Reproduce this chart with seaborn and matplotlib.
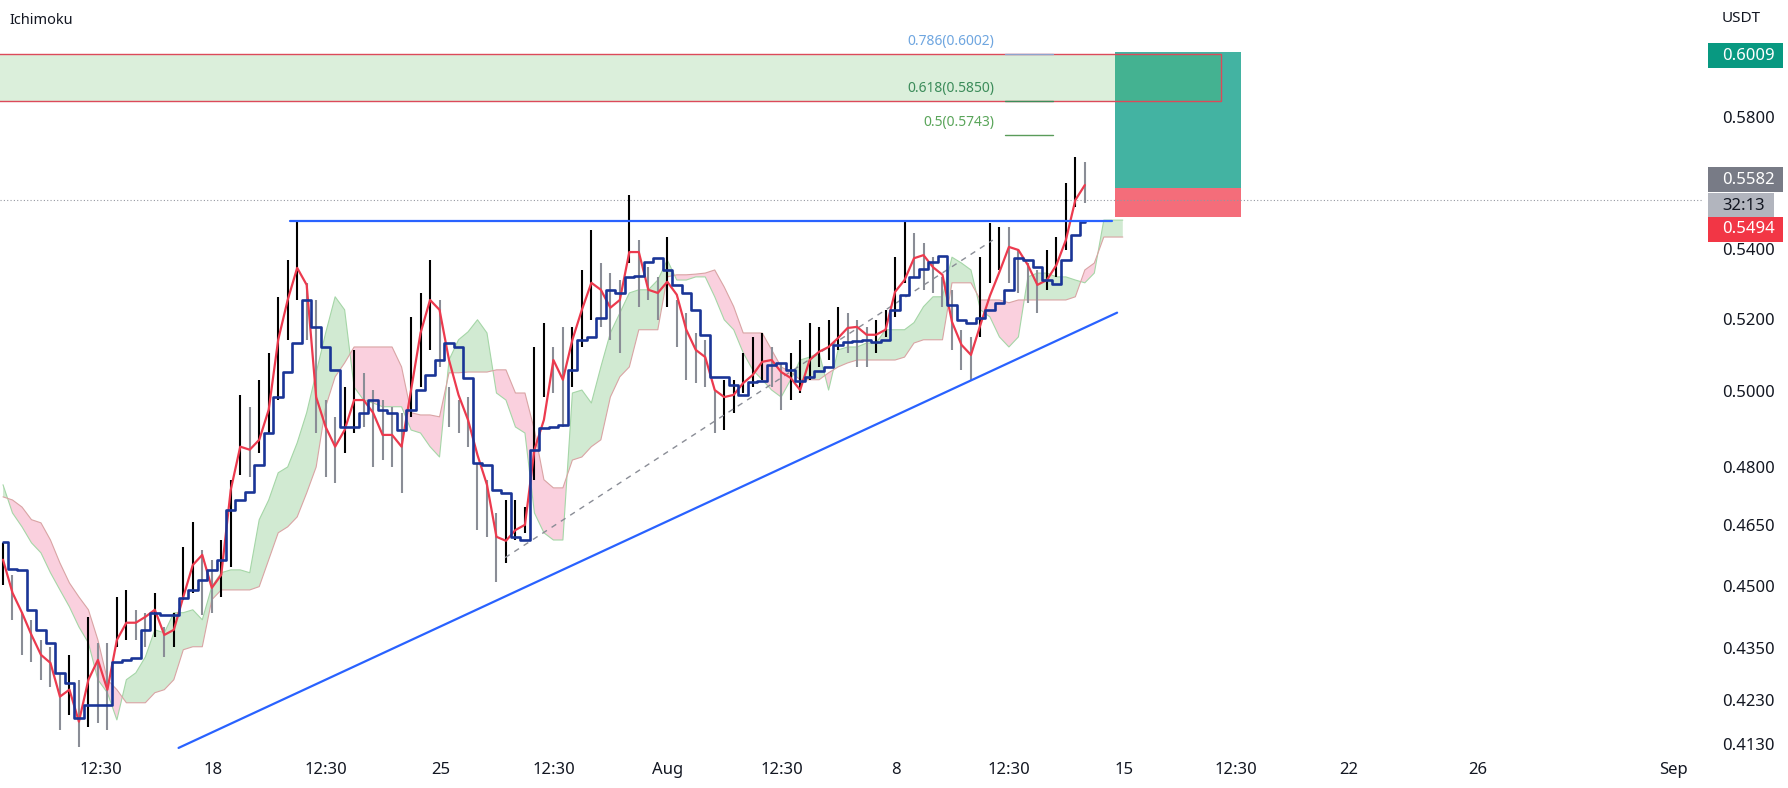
import numpy as np
import pandas as pd
import matplotlib
matplotlib.use("Agg")
import matplotlib.pyplot as plt
from matplotlib.patches import Rectangle
from matplotlib.transforms import IdentityTransform
import seaborn as sns

# ---------------- data ----------------
bar_high = [
    0.4606, 0.4527, 0.4437, 0.4418, 0.4370, 0.4354, 0.4293, 0.4335, 0.4277, 0.4425,
    0.4363, 0.4363, 0.4473, 0.4490, 0.4442, 0.4435, 0.4483, 0.4401, 0.4435, 0.4596,
    0.4659, 0.4588, 0.4564, 0.4613, 0.4766, 0.4990, 0.4958, 0.5031, 0.5105, 0.5262,
    0.5368, 0.5482, 0.5302, 0.5253, 0.4976, 0.4931, 0.5011, 0.5113, 0.5050, 0.5003,
    0.4976, 0.4958, 0.4942, 0.5205, 0.5273, 0.5368, 0.5253, 0.5011, 0.4976, 0.4984,
    0.4809, 0.4766, 0.4681, 0.4714, 0.4714, 0.4696, 0.5121, 0.5189, 0.5121, 0.5177,
    0.5177, 0.5339, 0.5456, 0.5359, 0.5330, 0.5310, 0.5560, 0.5426, 0.5347, 0.5319,
    0.5435, 0.5253, 0.5216, 0.5160, 0.5141, 0.5003, 0.5031, 0.5031, 0.5105, 0.5149,
    0.5160, 0.5121, 0.5077, 0.5105, 0.5141, 0.5189, 0.5177, 0.5197, 0.5234, 0.5216,
    0.5197, 0.5177, 0.5197, 0.5225, 0.5376, 0.5485, 0.5447, 0.5417, 0.5376, 0.5319,
    0.5282, 0.5169, 0.5149, 0.5376, 0.5476, 0.5465, 0.5465, 0.5397, 0.5359, 0.5339,
    0.5397, 0.5435, 0.5596, 0.5676, 0.5660,
]
bar_low = [
    0.4503, 0.4418, 0.4335, 0.4318, 0.4277, 0.4261, 0.4163, 0.4197, 0.4124, 0.4169,
    0.4178, 0.4163, 0.4354, 0.4370, 0.4370, 0.4354, 0.4377, 0.4330, 0.4354, 0.4466,
    0.4483, 0.4430, 0.4435, 0.4473, 0.4547, 0.4778, 0.4773, 0.4836, 0.4888, 0.4976,
    0.5141, 0.5253, 0.5141, 0.4888, 0.4773, 0.4758, 0.4836, 0.4888, 0.4904, 0.4799,
    0.4817, 0.4799, 0.4732, 0.4931, 0.5011, 0.5113, 0.5066, 0.4904, 0.4888, 0.4852,
    0.4638, 0.4621, 0.4510, 0.4556, 0.4613, 0.4631, 0.4766, 0.4984, 0.4995, 0.4904,
    0.5011, 0.5121, 0.5197, 0.5177, 0.5141, 0.5105, 0.5359, 0.5234, 0.5253, 0.5197,
    0.5234, 0.5121, 0.5031, 0.5022, 0.5011, 0.4888, 0.4896, 0.4942, 0.4995, 0.5011,
    0.5031, 0.5011, 0.4950, 0.4976, 0.4995, 0.5031, 0.5066, 0.5085, 0.5113, 0.5105,
    0.5066, 0.5066, 0.5105, 0.5149, 0.5205, 0.5302, 0.5319, 0.5282, 0.5273, 0.5234,
    0.5113, 0.5058, 0.5031, 0.5149, 0.5302, 0.5339, 0.5302, 0.5273, 0.5245, 0.5216,
    0.5282, 0.5319, 0.5397, 0.5524, 0.5536,
]
tenkan = [
    0.4564, 0.4483, 0.4435, 0.4382, 0.4335, 0.4316, 0.4238, 0.4254, 0.4181, 0.4277,
    0.4323, 0.4254, 0.4370, 0.4411, 0.4411, 0.4425, 0.4442, 0.4382, 0.4394, 0.4473,
    0.4551, 0.4576, 0.4495, 0.4527, 0.4740, 0.4852, 0.4844, 0.4870, 0.4950, 0.5141,
    0.5253, 0.5345, 0.5296, 0.4984, 0.4904, 0.4852, 0.4896, 0.4976, 0.4976, 0.4942,
    0.4883, 0.4883, 0.4852, 0.5003, 0.5160, 0.5253, 0.5225, 0.5085, 0.4990, 0.4923,
    0.4830, 0.4753, 0.4621, 0.4611, 0.4638, 0.4651, 0.4844, 0.4923, 0.5085, 0.5031,
    0.5141, 0.5225, 0.5302, 0.5282, 0.5231, 0.5253, 0.5391, 0.5391, 0.5282, 0.5273,
    0.5305, 0.5268, 0.5169, 0.5113, 0.5093, 0.5003, 0.4984, 0.4990, 0.5022, 0.5044,
    0.5080, 0.5085, 0.5052, 0.5036, 0.5003, 0.5085, 0.5108, 0.5121, 0.5146, 0.5174,
    0.5177, 0.5155, 0.5155, 0.5169, 0.5276, 0.5310, 0.5373, 0.5382, 0.5347, 0.5325,
    0.5191, 0.5127, 0.5099, 0.5183, 0.5265, 0.5333, 0.5406, 0.5397, 0.5353, 0.5296,
    0.5310, 0.5353, 0.5426, 0.5545, 0.5590,
]
kijun = [
    0.4608, 0.4541, 0.4539, 0.4442, 0.4394, 0.4363, 0.4293, 0.4270, 0.4190, 0.4219,
    0.4219, 0.4219, 0.4318, 0.4323, 0.4328, 0.4394, 0.4435, 0.4430, 0.4430, 0.4471,
    0.4490, 0.4515, 0.4539, 0.4564, 0.4689, 0.4714, 0.4735, 0.4804, 0.4888, 0.4984,
    0.5052, 0.5132, 0.5253, 0.5177, 0.5121, 0.5058, 0.4904, 0.4904, 0.4942, 0.4976,
    0.4950, 0.4942, 0.4896, 0.4950, 0.5003, 0.5044, 0.5085, 0.5132, 0.5121, 0.5036,
    0.4809, 0.4804, 0.4740, 0.4732, 0.4621, 0.4613, 0.4844, 0.4901, 0.4904, 0.4909,
    0.5058, 0.5141, 0.5149, 0.5203, 0.5282, 0.5273, 0.5319, 0.5322, 0.5362, 0.5373,
    0.5339, 0.5296, 0.5273, 0.5225, 0.5155, 0.5039, 0.5039, 0.5017, 0.4990, 0.5025,
    0.5028, 0.5072, 0.5077, 0.5058, 0.5028, 0.5039, 0.5055, 0.5066, 0.5127, 0.5135,
    0.5138, 0.5141, 0.5135, 0.5141, 0.5225, 0.5268, 0.5319, 0.5342, 0.5362, 0.5379,
    0.5239, 0.5197, 0.5189, 0.5203, 0.5225, 0.5245, 0.5282, 0.5373, 0.5368, 0.5347,
    0.5310, 0.5299, 0.5368, 0.5441, 0.5479,
]
span_a = [
    0.4753, 0.4681, 0.4646, 0.4606, 0.4581, 0.4532, 0.4490, 0.4449, 0.4401, 0.4363,
    0.4277, 0.4247, 0.4185, 0.4277, 0.4293, 0.4330, 0.4394, 0.4387, 0.4435, 0.4435,
    0.4442, 0.4418, 0.4498, 0.4532, 0.4539, 0.4539, 0.4532, 0.4664, 0.4714, 0.4784,
    0.4799, 0.4862, 0.4942, 0.5050, 0.5160, 0.5262, 0.5225, 0.5011, 0.4976, 0.4968,
    0.4958, 0.4958, 0.4958, 0.4896, 0.4888, 0.4852, 0.4825, 0.5085, 0.5141, 0.5163,
    0.5197, 0.5160, 0.4995, 0.4976, 0.4904, 0.4888, 0.4681, 0.4631, 0.4613, 0.4613,
    0.4995, 0.5003, 0.4968, 0.5066, 0.5160, 0.5216, 0.5273, 0.5282, 0.5282, 0.5310,
    0.5368, 0.5310, 0.5310, 0.5319, 0.5319, 0.5262, 0.5197, 0.5169, 0.5105, 0.5058,
    0.5031, 0.5003, 0.4984, 0.5031, 0.5085, 0.5093, 0.5105, 0.5003, 0.5113, 0.5121,
    0.5121, 0.5132, 0.5132, 0.5169, 0.5169, 0.5169, 0.5189, 0.5234, 0.5262, 0.5262,
    0.5376, 0.5359, 0.5339, 0.5225, 0.5205, 0.5149, 0.5121, 0.5149, 0.5319, 0.5330,
    0.5330, 0.5319, 0.5319, 0.5310, 0.5302, 0.5330, 0.5485, 0.5485, 0.5485,
]
span_b = [
    0.4722, 0.4714, 0.4696, 0.4664, 0.4656, 0.4613, 0.4556, 0.4507, 0.4473, 0.4442,
    0.4370, 0.4277, 0.4254, 0.4224, 0.4224, 0.4224, 0.4247, 0.4254, 0.4277, 0.4347,
    0.4354, 0.4354, 0.4466, 0.4490, 0.4490, 0.4490, 0.4490, 0.4498, 0.4564, 0.4631,
    0.4646, 0.4671, 0.4732, 0.4799, 0.4958, 0.5039, 0.5077, 0.5121, 0.5121, 0.5121,
    0.5121, 0.5121, 0.5066, 0.4942, 0.4936, 0.4936, 0.4931, 0.5050, 0.5050, 0.5052,
    0.5052, 0.5052, 0.5058, 0.5058, 0.4995, 0.4995, 0.4896, 0.4766, 0.4745, 0.4745,
    0.4817, 0.4825, 0.4852, 0.4870, 0.4984, 0.5039, 0.5066, 0.5169, 0.5169, 0.5169,
    0.5319, 0.5325, 0.5325, 0.5327, 0.5330, 0.5339, 0.5290, 0.5234, 0.5160, 0.5160,
    0.5160, 0.5113, 0.5066, 0.5052, 0.5031, 0.5031, 0.5031, 0.5050, 0.5066, 0.5077,
    0.5085, 0.5085, 0.5085, 0.5085, 0.5085, 0.5093, 0.5132, 0.5141, 0.5141, 0.5141,
    0.5302, 0.5302, 0.5302, 0.5253, 0.5253, 0.5253, 0.5245, 0.5253, 0.5253, 0.5253,
    0.5253, 0.5253, 0.5253, 0.5262, 0.5339, 0.5359, 0.5435, 0.5435, 0.5435,
]

time_tick_pos = [10.27, 22.18, 34.04, 46.15, 58.06, 70.07, 82.09, 94.05,
                 105.97, 118.09, 129.9, 141.83, 155.38, 175.98]
time_tick_labels = ["12:30", "18", "12:30", "25", "12:30", "Aug", "12:30", "8",
                    "12:30", "15", "12:30", "22", "26", "Sep"]
price_ticks = [0.4130, 0.4230, 0.4350, 0.4500, 0.4650, 0.4800, 0.5000,
               0.5200, 0.5400, 0.5800]

# drawings
resistance_level = 0.5483
resistance_x = [30.2, 116.9]
trend_x = [18.5, 117.4]
trend_y = [0.4122, 0.5217]
dash_x = [52.9, 104.3]
dash_y = [0.4569, 0.5426]
fib_names = ["0.786", "0.618", "0.5"]
fib_levels = [0.6002, 0.5850, 0.5743]
fib_x = [105.6, 110.6]
zone_low, zone_high = 0.5850, 0.6002
zone_x = [-2.0, 128.3]
entry_price, target_price, stop_price = 0.5582, 0.6009, 0.5494
position_x = [117.2, 130.5]
last_price_line = 0.5545
countdown = "32:13"

# ---------------- figure ----------------
sns.set_theme(style="white")
plt.rcParams["font.family"] = ["Noto Sans", "DejaVu Sans"]

W, H = 1788, 788
fig = plt.figure(figsize=(W / 100, H / 100), dpi=100)
fig.patch.set_facecolor("white")
ax = fig.add_axes([0, 32 / H, 1703 / W, 756 / H])
ax.set_facecolor("white")
ax.set_yscale("log")
ax.set_xlim(-0.316, 179.14)
ax.set_ylim(0.4104, 0.6179)

bars = pd.DataFrame({"x": np.arange(len(bar_high)), "high": bar_high, "low": bar_low})
mid = (bars["high"] + bars["low"]) / 2
up = mid.diff().fillna(0) >= 0
ichi = pd.DataFrame({"x": np.arange(len(tenkan)), "tenkan": tenkan, "kijun": kijun})
cloud = pd.DataFrame({"x": np.arange(len(span_a)), "a": span_a, "b": span_b})

# position tool
ax.add_patch(Rectangle((position_x[0], entry_price), position_x[1] - position_x[0],
                       target_price - entry_price, facecolor="#43b3a2", edgecolor="none", zorder=1))
ax.add_patch(Rectangle((position_x[0], stop_price), position_x[1] - position_x[0],
                       entry_price - stop_price, facecolor="#f46d7a", edgecolor="none", zorder=1))

# supply zone
ax.add_patch(Rectangle((zone_x[0], zone_low), zone_x[1] - zone_x[0], zone_high - zone_low,
                       facecolor=(0.30, 0.69, 0.31, 0.2), edgecolor="#dc4a5a", linewidth=1.0, zorder=2))

# cloud
ax.fill_between(cloud["x"], cloud["a"], cloud["b"], where=cloud["a"] >= cloud["b"],
                interpolate=True, color="#a5d6a7", alpha=0.5, linewidth=0, zorder=2)
ax.fill_between(cloud["x"], cloud["a"], cloud["b"], where=cloud["a"] < cloud["b"],
                interpolate=True, color="#f48fb1", alpha=0.42, linewidth=0, zorder=2)
sns.lineplot(data=cloud, x="x", y="a", ax=ax, color="#a5d6a7", linewidth=0.8, zorder=2.5)
sns.lineplot(data=cloud, x="x", y="b", ax=ax, color="#d9a4a4", linewidth=0.8, zorder=2.5)

# last price dotted line
ax.axhline(last_price_line, color="#9598a1", linestyle=(0, (1, 2)), linewidth=0.8, zorder=2)

# candles
ax.vlines(bars["x"], bars["low"], bars["high"],
          colors=np.where(up, "#000000", "#8a8d96"), linewidth=1.5, zorder=3)

# dashed fib trend
sns.lineplot(x=dash_x, y=dash_y, ax=ax, color="#8a8d96", linewidth=1.0,
             linestyle=(0, (4, 4)), zorder=3)

# tenkan / kijun
sns.lineplot(data=ichi, x="x", y="tenkan", ax=ax, color="#ec3a4e", linewidth=1.6, zorder=5)
sns.lineplot(data=ichi, x="x", y="kijun", ax=ax, color="#1a3597", linewidth=1.9, zorder=5,
             drawstyle="steps-mid")

# resistance and trend lines
sns.lineplot(x=resistance_x, y=[resistance_level] * 2, ax=ax, color="#2962ff", linewidth=1.6, zorder=6)
sns.lineplot(x=trend_x, y=trend_y, ax=ax, color="#2962ff", linewidth=1.6, zorder=6)

# fib levels
fib_line_colors = ["#8fa3cf", "#3c8c5a", "#5a9c5a"]
fib_text_colors = ["#6fa6e0", "#3c8c5a", "#5aa55a"]
for name, lvl, lc, tc in zip(fib_names, fib_levels, fib_line_colors, fib_text_colors):
    ax.plot(fib_x, [lvl, lvl], color=lc, linewidth=1.0, zorder=4)
    ax.annotate(f"{name}({lvl:.4f})", xy=(fib_x[0], lvl), xytext=(-11, 5),
                textcoords="offset pixels", ha="right", va="bottom",
                fontsize=10, color=tc, zorder=7)

# axes styling
for s in ax.spines.values():
    s.set_visible(False)
ax.grid(False)
ax.set_xlabel("")
ax.set_ylabel("")
ax.set_xticks(time_tick_pos)
ax.set_xticklabels(time_tick_labels)
for lab in ax.get_xticklabels():
    if lab.get_text() in ("Aug", "Sep"):
        lab.set_fontweight("semibold")
ax.tick_params(axis="x", length=0, pad=4, labelsize=12, colors="#131722")
ax.yaxis.tick_right()
ax.set_yticks(price_ticks)
ax.set_yticklabels([f"{v:.4f}" for v in price_ticks])
ax.yaxis.set_minor_locator(matplotlib.ticker.NullLocator())
ax.tick_params(axis="y", which="both", length=0, pad=13.5, labelsize=12, colors="#131722")

# texts
fig.text(9 / W, 1 - 20.7 / H, "Ichimoku", fontsize=10.5, color="#131722", va="center", ha="left")
fig.text(1741 / W, 1 - 18 / H, "USDT", fontsize=11, color="#131722", va="center", ha="center")

# price scale badges (display pixels)
def badge(text, price, dy_down, bg, fg, x0, x1, bold=True):
    yc = ax.transData.transform((0, price))[1] - dy_down
    h = 25
    fig.add_artist(Rectangle((x0, yc - h / 2), x1 - x0, h, facecolor=bg, edgecolor="none",
                             transform=IdentityTransform(), zorder=10))
    fig.text(1722, yc, text, transform=IdentityTransform(), ha="left", va="center",
             fontsize=12, color=fg, fontweight="bold" if bold else "normal", zorder=11)

badge(f"{target_price:.4f}", target_price, 4, "#089981", "white", 1708, 1783)
badge(f"{entry_price:.4f}", entry_price, -8, "#787b86", "white", 1708, 1783)
badge(countdown, entry_price, 18, "#b2b5be", "#131722", 1708, 1774, bold=False)
badge(f"{stop_price:.4f}", stop_price, 12, "#f23645", "white", 1708, 1783)

fig.savefig("out.png", dpi=100, facecolor="white")
